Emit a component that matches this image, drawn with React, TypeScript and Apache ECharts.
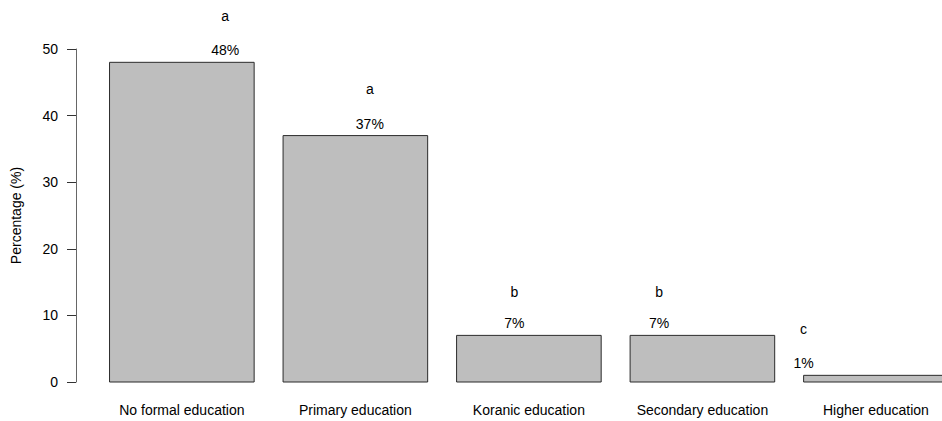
import React, { useEffect, useRef } from "react";
import * as echarts from "echarts";

const categories = [
  "No formal education",
  "Primary education",
  "Koranic education",
  "Secondary education",
  "Higher education",
];
const values = [48, 37, 7, 7, 1];
const pctLabels = ["48%", "37%", "7%", "7%", "1%"];
const letters = ["a", "a", "b", "b", "c"];
const letterY = [55, 44, 13.5, 13.5, 8];
const labelX = [1, 2, 3, 4, 5];
const yTicks = [0, 10, 20, 30, 40, 50];

const FONT = "'Liberation Sans', Arial, sans-serif";

export default function App() {
  const ref = useRef<HTMLDivElement>(null);
  useEffect(() => {
    if (!ref.current) return;
    const chart = echarts.init(ref.current, null, { renderer: "svg" });
    const barData = values.map((v, i) => [
      0.2 + 1.2 * i,
      1.2 + 1.2 * i,
      v,
      labelX[i],
      letterY[i],
    ]);
    const txt = (x: number, y: number, text: string) => ({
      type: "text",
      x,
      y,
      style: {
        text,
        fill: "#000",
        font: `14px ${FONT}`,
        align: "center",
        verticalAlign: "middle",
      },
    });
    chart.setOption({
      animation: false,
      backgroundColor: "#ffffff",
      textStyle: { fontFamily: FONT },
      grid: {
        left: 76,
        right: 0,
        top: 49,
        bottom: 39,
        containLabel: false,
        outerBoundsMode: "none",
      },
      xAxis: {
        type: "value",
        min: -0.032,
        max: 5.957,
        show: false,
      },
      yAxis: {
        type: "value",
        min: yTicks[0],
        max: yTicks[yTicks.length - 1],
        interval: 10,
        name: "Percentage (%)",
        nameLocation: "middle",
        nameGap: 53,
        nameRotate: 90,
        nameMoveOverlap: false,
        nameTextStyle: { fontSize: 14, color: "#000", fontFamily: FONT },
        axisLine: { show: true, onZero: false, lineStyle: { color: "#666", width: 1 } },
        axisTick: { show: true, inside: false, length: 9, lineStyle: { color: "#333" } },
        axisLabel: { fontSize: 14, color: "#000", margin: 18, fontFamily: FONT },
        splitLine: { show: false },
      },
      series: [
        {
          type: "custom",
          clip: false,
          silent: true,
          data: barData,
          encode: { x: [0, 1], y: 2 },
          renderItem: (params: any, api: any) => {
            const i = params.dataIndex;
            const x0 = api.value(0);
            const x1 = api.value(1);
            const v = api.value(2);
            const lx = api.value(3);
            const ly = api.value(4);
            const p0 = api.coord([x0, v]);
            const p1 = api.coord([x1, 0]);
            const mid = api.coord([(x0 + x1) / 2, 0]);
            const pPct = api.coord([lx, v]);
            const pLet = api.coord([lx, ly]);
            return {
              type: "group",
              children: [
                {
                  type: "rect",
                  shape: { x: p0[0], y: p0[1], width: p1[0] - p0[0], height: p1[1] - p0[1] },
                  style: { fill: "#bebebe", stroke: "#2b2b2b", lineWidth: 1 },
                },
                txt(mid[0], mid[1] + 28, categories[i]),
                txt(pPct[0], pPct[1] - 12, pctLabels[i]),
                txt(pLet[0], pLet[1], letters[i]),
              ],
            };
          },
        },
      ],
    });
    return () => chart.dispose();
  }, []);
  return (
    <div
      ref={ref}
      style={{ position: "fixed", left: 0, top: 0, width: 942, height: 421 }}
    />
  );
}
